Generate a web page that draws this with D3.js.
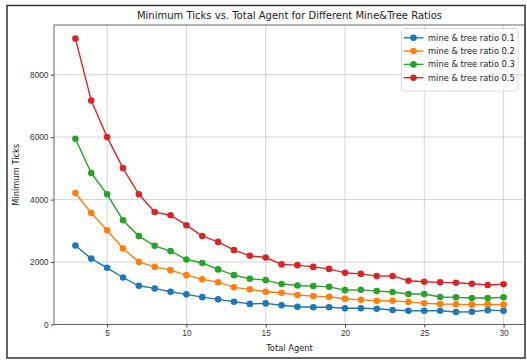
<!DOCTYPE html>
<meta charset="utf-8" />
<style>
  body { margin: 0; background: #fff; }
  svg { display: block; font-family: "DejaVu Sans", sans-serif; }
  .grid line { stroke: #c8c8c8; stroke-width: 0.8px; }
  .axis text { fill: #333; font-size: 8.3px; }
  .axis path, .axis line { stroke: #444; }
</style>
<svg width="527" height="360"></svg>
<script src="https://cdn.jsdelivr.net/npm/d3@7"></script>
<script>
  var agents = d3.range(3, 31);
  var seriesNames = ["mine & tree ratio 0.1", "mine & tree ratio 0.2", "mine & tree ratio 0.3", "mine & tree ratio 0.5"];
  var colors = ["#1f77b4", "#ff7f0e", "#2ca02c", "#d62728"];

  var ratio01 = [2530, 2110, 1815, 1505, 1240, 1155, 1050, 965, 875, 805, 730, 660, 675, 615, 570, 550, 550, 520, 520, 505, 465, 440, 440, 440, 400, 410, 460, 440];
  var ratio02 = [4210, 3570, 3020, 2435, 2005, 1845, 1740, 1580, 1445, 1355, 1190, 1125, 1050, 1015, 945, 910, 885, 825, 790, 760, 760, 725, 680, 655, 645, 635, 645, 635];
  var ratio03 = [5950, 4850, 4170, 3340, 2830, 2520, 2350, 2080, 1970, 1765, 1580, 1465, 1420, 1295, 1250, 1230, 1205, 1100, 1110, 1070, 1040, 975, 975, 880, 870, 850, 850, 870];
  var ratio05 = [9160, 7170, 6000, 5010, 4170, 3600, 3500, 3180, 2830, 2645, 2380, 2200, 2145, 1925, 1900, 1845, 1780, 1655, 1620, 1550, 1555, 1400, 1370, 1350, 1335, 1305, 1265, 1290];

  var xTicks = [5, 10, 15, 20, 25, 30];
  var yTicks = [0, 2000, 4000, 6000, 8000];

  var series = [ratio01, ratio02, ratio03, ratio05];

  var svg = d3.select("svg");
  var mLeft = 54, mRight = 525, mTop = 25, mBottom = 324.5;

  // outer frame of the figure
  svg.append("rect")
    .attr("x", 7).attr("y", 5.5)
    .attr("width", 518).attr("height", 352.5)
    .attr("fill", "none")
    .attr("stroke", "#333")
    .attr("stroke-width", 1.5);

  var x = d3.scaleLinear().domain([1.65, 31.35]).range([mLeft, mRight]);
  var y = d3.scaleLinear().domain([0, 9590]).range([mBottom, mTop]);

  var grid = svg.append("g").attr("class", "grid");
  grid.selectAll(".gx").data(xTicks).enter().append("line")
    .attr("x1", function (d) { return x(d); })
    .attr("x2", function (d) { return x(d); })
    .attr("y1", mTop).attr("y2", mBottom);
  grid.selectAll(".gy").data(yTicks).enter().append("line")
    .attr("x1", mLeft).attr("x2", mRight)
    .attr("y1", function (d) { return y(d); })
    .attr("y2", function (d) { return y(d); });

  svg.append("g")
    .attr("class", "axis")
    .attr("transform", "translate(0," + mBottom + ")")
    .call(d3.axisBottom(x).tickValues(xTicks).tickSize(3).tickPadding(2.5).tickFormat(d3.format("d")))
    .call(function (g) { g.select(".domain").remove(); });

  svg.append("g")
    .attr("class", "axis")
    .attr("transform", "translate(" + mLeft + ",0)")
    .call(d3.axisLeft(y).tickValues(yTicks).tickSize(3).tickPadding(2.5).tickFormat(d3.format("d")))
    .call(function (g) { g.select(".domain").remove(); });

  // axes box
  svg.append("rect")
    .attr("x", mLeft).attr("y", mTop)
    .attr("width", mRight - mLeft).attr("height", mBottom - mTop)
    .attr("fill", "none")
    .attr("stroke", "#444")
    .attr("stroke-width", 0.8);

  var line = d3.line()
    .x(function (d, i) { return x(agents[i]); })
    .y(function (d) { return y(d); });

  series.forEach(function (s, k) {
    var g = svg.append("g");
    g.append("path")
      .datum(s)
      .attr("d", line)
      .attr("fill", "none")
      .attr("stroke", colors[k])
      .attr("stroke-width", 1.4);
    g.selectAll("circle").data(s).enter().append("circle")
      .attr("cx", function (d, i) { return x(agents[i]); })
      .attr("cy", function (d) { return y(d); })
      .attr("r", 3.3)
      .attr("fill", colors[k]);
  });

  svg.append("text")
    .attr("x", (mLeft + mRight) / 2).attr("y", 18.5)
    .attr("text-anchor", "middle")
    .attr("font-size", 10)
    .attr("fill", "#222")
    .text("Minimum Ticks vs. Total Agent for Different Mine&Tree Ratios");

  svg.append("text")
    .attr("x", (mLeft + mRight) / 2).attr("y", 351)
    .attr("text-anchor", "middle")
    .attr("font-size", 8.3)
    .attr("fill", "#222")
    .text("Total Agent");

  svg.append("text")
    .attr("transform", "translate(19," + (mTop + mBottom) / 2 + ") rotate(-90)")
    .attr("text-anchor", "middle")
    .attr("font-size", 8.3)
    .attr("fill", "#222")
    .text("Minimum Ticks");

  // legend
  var legend = svg.append("g").attr("transform", "translate(401.5,28.5)");
  legend.append("rect")
    .attr("width", 116.5).attr("height", 62.5)
    .attr("rx", 2)
    .attr("fill", "#fff")
    .attr("fill-opacity", 0.85)
    .attr("stroke", "#d0d0d0")
    .attr("stroke-width", 0.8);
  var item = legend.selectAll(".item").data(seriesNames).enter().append("g")
    .attr("transform", function (d, i) { return "translate(0," + (9.3 + i * 13.3) + ")"; });
  item.append("line")
    .attr("x1", 2).attr("x2", 22)
    .attr("stroke", function (d, i) { return colors[i]; })
    .attr("stroke-width", 1.4);
  item.append("circle")
    .attr("cx", 12).attr("r", 3.3)
    .attr("fill", function (d, i) { return colors[i]; });
  item.append("text")
    .attr("x", 26.5).attr("dy", "0.35em")
    .attr("font-size", 8.3)
    .attr("fill", "#222")
    .text(function (d) { return d; });
</script>
